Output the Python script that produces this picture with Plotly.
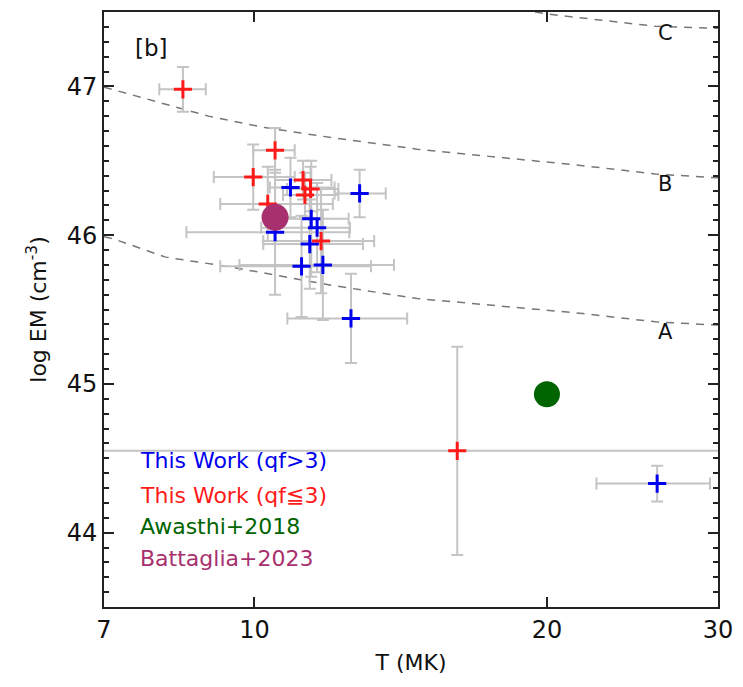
import plotly.graph_objects as go

# ---- data ----
# This Work (qf>3) -- blue
blue_T = [10.89, 12.83, 10.50, 11.44, 11.60, 11.40, 11.18, 11.76, 12.57, 25.97]
blue_T_lo = [10.37, 12.09, 8.51, 10.60, 10.16, 10.21, 9.22, 9.65, 10.81, 22.49]
blue_T_hi = [12.09, 13.65, 12.52, 12.50, 12.54, 12.93, 13.18, 13.92, 14.36, 29.44]
blue_EM = [46.32, 46.28, 46.02, 46.11, 46.05, 45.94, 45.79, 45.80, 45.44, 44.33]
blue_EM_err = [0.20, 0.16, 0.42, 0.39, 0.30, 0.30, 0.34, 0.37, 0.30, 0.12]

# This Work (qf<=3) -- red
red_T = [8.44, 10.50, 9.97, 10.32, 11.22, 11.42, 11.27, 11.71, 16.17]
red_T_lo = [7.98, 9.97, 9.08, 9.22, 10.50, 10.80, 10.70, 10.21, 1.0]
red_T_hi = [8.91, 11.00, 11.00, 12.04, 12.00, 12.20, 12.20, 13.28, 100.0]
red_EM = [46.98, 46.57, 46.39, 46.21, 46.37, 46.31, 46.27, 45.96, 44.55]
red_EM_err = [0.15, 0.15, 0.22, 0.25, 0.13, 0.15, 0.15, 0.35, 0.70]

# Awasthi+2018 and Battaglia+2023
awasthi_T = [20.0]
awasthi_EM = [44.93]
battaglia_T = [10.50]
battaglia_EM = [46.12]

# dashed model curves A, B, C
curveA_T = [7.0, 7.15, 8.10, 9.47, 11.99, 14.70, 21.77, 25.87, 30.0]
curveA_EM = [45.99, 45.976, 45.852, 45.785, 45.663, 45.574, 45.473, 45.417, 45.395]
curveB_T = [7.0, 7.67, 8.97, 10.25, 11.99, 14.70, 21.77, 25.87, 30.0]
curveB_EM = [46.995, 46.924, 46.80, 46.723, 46.656, 46.578, 46.467, 46.411, 46.385]
curveC_T = [17.5, 19.97, 25.87, 30.0]
curveC_EM = [47.55, 47.487, 47.404, 47.39]

x_ticks = [7, 10, 20, 30]
y_ticks = [44, 45, 46, 47]
legend_labels = ["This Work (qf>3)", "This Work (qf≦3)", "Awasthi+2018", "Battaglia+2023"]

BLUE = "#0000ee"
RED = "#ff1a1a"
GREEN = "#006400"
PURPLE = "#a8306e"
GRAY = "#c4c4c4"
FONT = "DejaVu Sans"

fig = go.Figure()

# dashed curves
for cx, cy in [(curveA_T, curveA_EM), (curveB_T, curveB_EM), (curveC_T, curveC_EM)]:
    fig.add_trace(go.Scatter(x=cx, y=cy, mode="lines",
                             line=dict(color="#777777", width=1.5, dash="8px,7px"),
                             hoverinfo="skip", showlegend=False))

def errtrace(T, lo, hi, EM, err):
    return go.Scatter(
        x=T, y=EM, mode="markers",
        marker=dict(size=1, color="rgba(0,0,0,0)"),
        error_x=dict(type="data", symmetric=False,
                     array=[h - t for t, h in zip(T, hi)],
                     arrayminus=[t - l for t, l in zip(T, lo)],
                     color=GRAY, thickness=2, width=6),
        error_y=dict(type="data", array=err, color=GRAY, thickness=2, width=6),
        showlegend=False, hoverinfo="skip")

fig.add_trace(errtrace(blue_T, blue_T_lo, blue_T_hi, blue_EM, blue_EM_err))
fig.add_trace(errtrace(red_T, red_T_lo, red_T_hi, red_EM, red_EM_err))

fig.add_trace(go.Scatter(x=blue_T, y=blue_EM, mode="markers",
                         marker=dict(symbol="cross-thin", size=13,
                                     line=dict(color=BLUE, width=3)),
                         showlegend=False))
fig.add_trace(go.Scatter(x=red_T, y=red_EM, mode="markers",
                         marker=dict(symbol="cross-thin", size=13,
                                     line=dict(color=RED, width=3)),
                         showlegend=False))
fig.add_trace(go.Scatter(x=awasthi_T, y=awasthi_EM, mode="markers",
                         marker=dict(symbol="circle", size=26, color=GREEN,
                                     line=dict(width=0)),
                         showlegend=False))
fig.add_trace(go.Scatter(x=battaglia_T, y=battaglia_EM, mode="markers",
                         marker=dict(symbol="circle", size=27, color=PURPLE,
                                     line=dict(width=0)),
                         showlegend=False))

annos = []
# legend texts
for lab, col, yy in zip(legend_labels, [BLUE, RED, GREEN, PURPLE],
                        [0.2461, 0.1868, 0.1347, 0.0812]):
    annos.append(dict(text=lab, x=0.0547, y=yy, xref="paper", yref="paper",
                      xanchor="left", yanchor="middle", showarrow=False,
                      font=dict(family=FONT, size=22, color=col)))
# curve labels
for lab, yy in zip(["C", "B", "A"], [0.9648, 0.7109, 0.4614]):
    annos.append(dict(text=lab, x=0.9143, y=yy, xref="paper", yref="paper",
                      xanchor="center", yanchor="middle", showarrow=False,
                      font=dict(family=FONT, size=21, color="#111111")))
annos.append(dict(text="[b]", x=0.077, y=0.939, xref="paper", yref="paper",
                  xanchor="center", yanchor="middle", showarrow=False,
                  font=dict(family=FONT, size=23, color="#111111")))

axis_common = dict(showline=True, linecolor="#222222", linewidth=2, mirror="ticks",
                   ticks="inside", tickcolor="#222222", tickwidth=2, ticklen=10,
                   showgrid=False, zeroline=False,
                   tickfont=dict(family=FONT, size=24, color="#111111"))

fig.update_layout(
    width=743, height=687,
    margin=dict(l=104, r=20, t=10, b=80),
    paper_bgcolor="white", plot_bgcolor="white",
    showlegend=False,
    annotations=annos,
    xaxis=dict(type="log", range=[0.845098, 1.477121], tickvals=x_ticks,
               ticktext=[str(v) for v in x_ticks],
               title=dict(text="T (MK)", font=dict(family=FONT, size=22, color="#111111"),
                          standoff=12),
               **axis_common),
    yaxis=dict(range=[43.5, 47.5], tickvals=y_ticks,
               ticktext=[str(v) for v in y_ticks],
               minor=dict(dtick=0.1, ticks="inside", ticklen=5, tickwidth=2,
                          tickcolor="#222222", showgrid=False),
               title=dict(text="log EM (cm<sup>-3</sup>)",
                          font=dict(family=FONT, size=22, color="#111111"),
                          standoff=14),
               **axis_common),
)

fig.write_html("out.html", config={"displayModeBar": False},
               post_script="document.body.style.margin='0';document.body.style.padding='0';")
